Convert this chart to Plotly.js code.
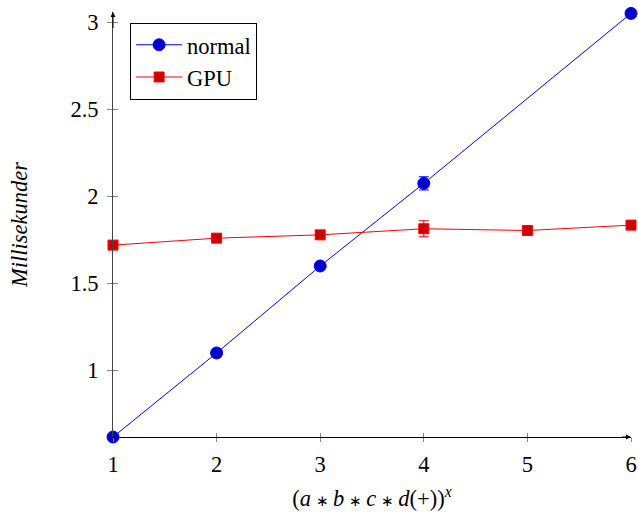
<!DOCTYPE html>
<html><head><meta charset="utf-8">
<script src="https://cdn.plot.ly/plotly-3.0.1.min.js"></script>
<style>body{margin:0;background:#fff}#c{width:638px;height:516px}</style>
</head><body><div id="c"></div>
<script>
const xNormal = [1, 2, 3, 4, 6];
const yNormal = [0.615, 1.098, 1.598, 2.073, 3.05];
const errNormal = [0, 0, 0, 0.038, 0];
const xGPU = [1, 2, 3, 4, 5, 6];
const yGPU = [1.718, 1.758, 1.777, 1.812, 1.802, 1.833];
const errGPU = [0, 0, 0.02, 0.046, 0, 0];
const xTicks = [1, 2, 3, 4, 5, 6];
const yTicks = [1, 1.5, 2, 2.5, 3];
const yTickText = ['1', '1.5', '2', '2.5', '3'];

const font = {family: '"Liberation Serif"', size: 22.5, color: '#000'};
const xr = [1, 6], yr = [0.615, 3.058];
const ast = '\u2009<span style="font-size:15px">\u2217</span>\u2009';

const traces = [
  {x: xNormal, y: yNormal, name: 'normal', mode: 'lines+markers', cliponaxis: false,
   line: {color: '#0000ff', width: 1},
   marker: {symbol: 'circle', size: 12, color: '#0000cc', line: {color: '#0000ff', width: 1}},
   error_y: {type: 'data', array: errNormal, visible: true, color: '#0000ff', thickness: 1, width: 5}},
  {x: xGPU, y: yGPU, name: 'GPU', mode: 'lines+markers', cliponaxis: false,
   line: {color: '#ff0000', width: 1},
   marker: {symbol: 'square', size: 10, color: '#cc0000', line: {color: '#ff0000', width: 1}},
   error_y: {type: 'data', array: errGPU, visible: true, color: '#ff0000', thickness: 1, width: 5}},
  {x: [xTicks[0]], y: [yTicks[0]], xaxis: 'x2', yaxis: 'y2', mode: 'markers',
   marker: {opacity: 0}, showlegend: false, hoverinfo: 'skip'}
];

const layout = {
  width: 638, height: 516,
  margin: {l: 113, r: 7, t: 12, b: 79},
  paper_bgcolor: '#fff', plot_bgcolor: '#fff',
  font: font,
  showlegend: true,
  legend: {x: 0.033, y: 0.975, xanchor: 'left', yanchor: 'top',
           bordercolor: '#000', borderwidth: 1, bgcolor: '#fff',
           font: font, itemwidth: 46, tracegroupgap: 0},
  xaxis: {range: xr, tickvals: xTicks, ticktext: xTicks.map(String),
          showgrid: false, zeroline: false, showline: true, linecolor: '#000', linewidth: 1,
          ticks: 'outside', ticklen: 4, tickcolor: '#888', tickwidth: 1,
          tickfont: font, ticklabelstandoff: 3,
          title: {text: '(<i>a</i>' + ast + '<i>b</i>' + ast + '<i>c</i>' + ast + '<i>d</i>(+))<sup><i>x</i></sup>', font: font, standoff: 14}},
  yaxis: {range: yr, tickvals: yTicks, ticktext: yTickText,
          showgrid: false, zeroline: false, showline: true, linecolor: '#444', linewidth: 1,
          ticks: 'outside', ticklen: 5, tickcolor: '#888', tickwidth: 1,
          tickfont: font, ticklabelstandoff: 4,
          title: {text: '<i>Millisekunder</i>', font: font, standoff: 36}},
  xaxis2: {overlaying: 'x', range: xr, tickvals: xTicks, showticklabels: false,
           showgrid: false, zeroline: false, showline: false,
           ticks: 'inside', ticklen: 4, tickcolor: '#888', tickwidth: 1},
  yaxis2: {overlaying: 'y', range: yr, tickvals: yTicks, showticklabels: false,
           showgrid: false, zeroline: false, showline: false,
           ticks: 'inside', ticklen: 5, tickcolor: '#888', tickwidth: 1},
  annotations: [
    {x: xr[1], y: yr[0], ax: xr[1] - 0.1, ay: yr[0], xref: 'x', yref: 'y', axref: 'x', ayref: 'y',
     text: '', showarrow: true, arrowhead: 2, arrowsize: 1, arrowwidth: 1, arrowcolor: '#000'},
    {x: xr[0], y: yr[1], ax: xr[0], ay: yr[1] - 0.1, xref: 'x', yref: 'y', axref: 'x', ayref: 'y',
     text: '', showarrow: true, arrowhead: 2, arrowsize: 1, arrowwidth: 1, arrowcolor: '#000'}
  ]
};

Plotly.newPlot('c', traces, layout, {displayModeBar: false, staticPlot: true});
</script></body></html>
